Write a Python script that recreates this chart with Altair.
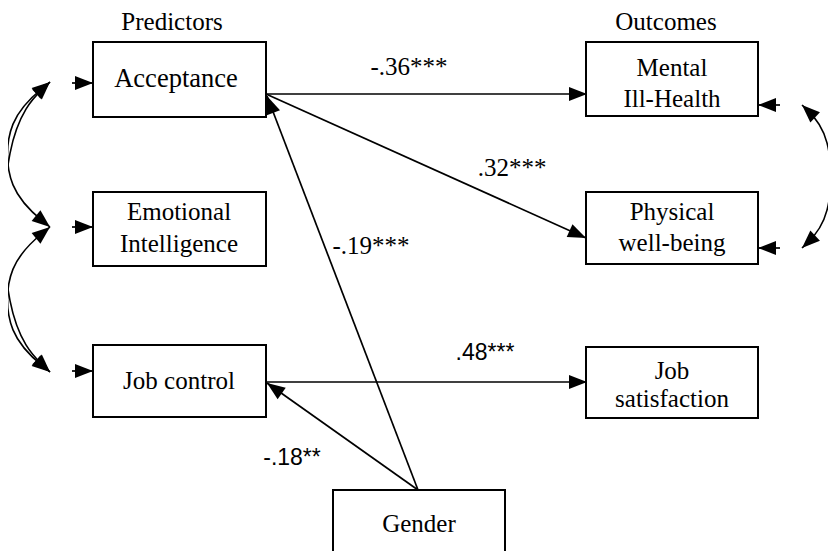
import altair as alt
import pandas as pd
import numpy as np

# ---------------- content ----------------
box_names = ["Acceptance", "Emotional Intelligence", "Job control",
             "Mental Ill-Health", "Physical well-being", "Job satisfaction", "Gender"]
header_labels = ["Predictors", "Outcomes"]
box_lines = [["Acceptance"], ["Emotional", "Intelligence"], ["Job control"],
             ["Mental", "Ill-Health"], ["Physical", "well-being"], ["Job", "satisfaction"], ["Gender"]]
coef_labels = ["-.36***", ".32***", "-.19***", ".48***", "-.18**"]
coef_font = ["serif", "serif", "serif", "sans", "sans"]

# ---------------- layout (pixel positions in the figure) ----------------
box_x1 = [93, 93, 93, 586, 586, 586, 333]
box_x2 = [266, 266, 266, 758, 758, 758, 505]
box_y1 = [42, 192, 345, 42, 192, 347, 490]
box_y2 = [117, 266, 417, 116, 264, 418, 556]

header_x = [172, 666]
header_y = [30, 30]
line_x = [[176], [179, 179], [179], [672, 672], [672, 672], [672, 672], [419]]
line_y = [[87], [220, 252], [389], [76, 107], [220, 251], [379, 407], [532]]
line_size = [[26.5], [25, 25], [25], [25, 25], [25, 25], [25, 25], [25]]

coef_x = [409, 512, 371, 485, 292]
coef_y = [75, 176, 254, 360, 465]

# straight paths: start -> arrow tip
path_x1 = [266, 266, 266, 418, 418, 72, 72, 72, 780, 780]
path_y1 = [94, 94, 382, 490, 490, 83, 227, 371, 105, 248]
path_x2 = [587, 586, 587, 267, 267, 93, 93, 93, 758, 758]
path_y2 = [94, 238, 382, 96, 383, 83, 227, 371, 105, 248]

# curved two-headed arrows (B-spline control points)
curve_px = [[50, 2, 2, 50], [50, 5.6, 5.6, 50], [50, 5.6, 5.6, 50], [802, 832, 832, 802]]
curve_py = [[82, 128, 326, 372], [82, 118, 191, 227], [227, 263, 336, 372], [105, 133, 220, 248]]

# ---------------- tables ----------------
boxes = pd.DataFrame({"name": box_names, "x": box_x1, "x2": box_x2, "y": box_y1, "y2": box_y2})

serif_rows = []
for t, x, y in zip(header_labels, header_x, header_y):
    serif_rows.append({"t": t, "x": x, "y": y, "s": 25})
for lines, xs_, ys_, ss in zip(box_lines, line_x, line_y, line_size):
    for t, x, y, s in zip(lines, xs_, ys_, ss):
        serif_rows.append({"t": t, "x": x, "y": y, "s": s})
serif_text = pd.DataFrame(serif_rows)

coefs = pd.DataFrame({"t": coef_labels, "x": coef_x, "y": coef_y, "f": coef_font})

paths = pd.DataFrame({"x": path_x1, "y": path_y1, "x2": path_x2, "y2": path_y2})

heads = []
for a, b, c, d in zip(path_x1, path_y1, path_x2, path_y2):
    heads.append({"x": c, "y": d, "angle": float(np.degrees(np.arctan2(c - a, -(d - b))) % 360)})
curve_rows = []
for k, (cx, cy) in enumerate(zip(curve_px, curve_py)):
    for i, (x, y) in enumerate(zip(cx, cy)):
        curve_rows.append({"c": k, "i": i, "x": x, "y": y})
    heads.append({"x": cx[0], "y": cy[0],
                  "angle": float(np.degrees(np.arctan2(cx[0] - cx[1], -(cy[0] - cy[1]))) % 360)})
    heads.append({"x": cx[3], "y": cy[3],
                  "angle": float(np.degrees(np.arctan2(cx[3] - cx[2], -(cy[3] - cy[2]))) % 360)})
curves = pd.DataFrame(curve_rows)
heads = pd.DataFrame(heads)

# ---------------- chart ----------------
W, H = 820, 543
xs = alt.Scale(domain=[8, 8 + W], nice=False, zero=False)
ys = alt.Scale(domain=[8, 8 + H], nice=False, zero=False, reverse=True)
X = lambda f="x": alt.X(f"{f}:Q", scale=xs, axis=None)
Y = lambda f="y": alt.Y(f"{f}:Q", scale=ys, axis=None)

rects = alt.Chart(boxes).mark_rect(fill="white", stroke="black", strokeWidth=2).encode(
    x=X(), x2="x2:Q", y=Y(), y2="y2:Q")

rules = alt.Chart(paths).mark_rule(color="black", strokeWidth=1.7).encode(
    x=X(), x2="x2:Q", y=Y(), y2="y2:Q")

lines = alt.Chart(curves).mark_line(interpolate="basis", color="black", strokeWidth=1.6).encode(
    x=X(), y=Y(), detail="c:N", order="i:O")

arrowheads = alt.Chart(heads).mark_point(
    shape="M0,0L-0.78,2L0.78,2Z", filled=True, color="black", opacity=1, size=324, strokeWidth=0
).encode(x=X(), y=Y(), angle=alt.Angle("angle:Q", scale=None))

labels = alt.Chart(serif_text).mark_text(
    font="Liberation Serif", baseline="alphabetic", align="center", color="black"
).encode(x=X(), y=Y(), text="t:N", size=alt.Size("s:Q", scale=None))

coef_serif = alt.Chart(coefs[coefs.f == "serif"]).mark_text(
    font="Liberation Serif", fontSize=25, baseline="alphabetic", align="center", color="black"
).encode(x=X(), y=Y(), text="t:N")

coef_sans = alt.Chart(coefs[coefs.f == "sans"]).mark_text(
    font="Liberation Sans", fontSize=23, baseline="alphabetic", align="center", color="black"
).encode(x=X(), y=Y(), text="t:N")

chart = alt.layer(rules, lines, rects, arrowheads, labels, coef_serif, coef_sans).properties(
    width=W, height=H, padding=0, autosize=alt.AutoSizeParams(type="none"), background="white"
).configure_view(stroke=None)

chart.save("out.html", embed_options={"renderer": "svg", "actions": False})
